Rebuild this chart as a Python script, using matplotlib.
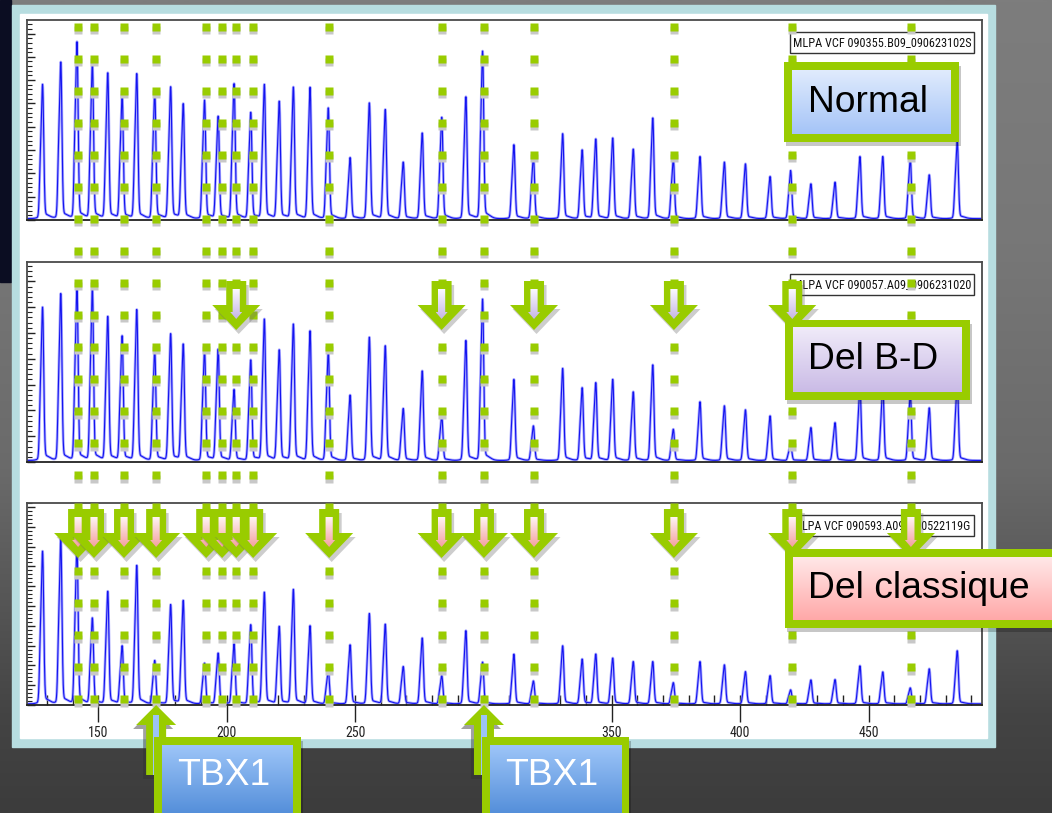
import numpy as np
import matplotlib
matplotlib.use("Agg")
import matplotlib.pyplot as plt
from matplotlib.colors import to_rgb
from matplotlib.font_manager import FontProperties, findfont
from matplotlib.patches import Rectangle, Polygon
from matplotlib.ticker import MultipleLocator, FixedLocator, NullLocator

# ---------------- MLPA fragment data ----------------
# fragment sizes (bp) of the probe peaks
probe_sizes = [128.3, 135.4, 141.7, 147.7, 153.7, 159.3, 165.0, 172.0, 178.2, 183.1,
               191.4, 196.7, 202.9, 209.4, 214.7, 220.5, 226.0, 232.5, 239.6, 248.1,
               255.6, 261.8, 268.8, 276.2, 283.8, 293.2, 299.7, 311.9, 319.5, 330.9,
               338.5, 343.8, 350.4, 358.4, 366.0, 374.0, 384.4, 393.9, 402.1, 411.7,
               419.7, 427.6, 437.0, 446.7, 455.6, 466.3, 473.7, 484.6]

# peak heights (RFU) for the three samples
rfu_normal = [5800, 6750, 7620, 6720, 6290, 5360, 6250, 5500, 5690, 4960,
              5120, 4430, 5830, 4600, 5790, 5075, 5675, 5675, 4790, 2670,
              5005, 4720, 2475, 3720, 4390, 5265, 7220, 3220, 2715, 3690,
              3000, 3460, 3505, 3030, 4360, 2600, 2715, 2475, 2400, 1860,
              2115, 1545, 1615, 2715, 2715, 2615, 1930, 3360]
rfu_del_bd = [5980, 6500, 6810, 6715, 5620, 4870, 5880, 4330, 4950, 4545,
              4330, 4350, 2800, 3940, 5515, 4330, 5320, 5065, 4290, 2585,
              4815, 4485, 2065, 3515, 1780, 4690, 6290, 3190, 1395, 3615,
              2870, 3060, 3190, 2710, 3750, 1265, 2325, 2170, 2015, 1780,
              670, 1330, 1520, 2900, 2900, 2635, 2090, 3100]
rfu_del_classique = [7740, 8330, 8080, 4380, 5720, 2980, 7020, 2240, 5050, 5250,
                     2105, 2610, 3080, 4040, 5670, 3955, 5810, 3990, 1730, 3030,
                     4600, 4065, 1935, 3370, 1480, 3740, 2155, 2560, 1210, 2980,
                     2310, 2560, 2360, 2185, 2185, 1125, 2185, 2020, 1680, 1480,
                     760, 1260, 1280, 1970, 1665, 860, 1820, 2730]
panel_rfu_max = [8580, 7750, 10200]

# 22q11 probes highlighted by the dotted guides (bp)
region_probes = [142.1, 148.3, 160.0, 172.5, 192.0, 198.2, 203.7, 210.3, 239.9,
                 283.7, 300.2, 319.7, 374.2, 420.3, 466.5]
del_bd_probes = [203.7, 283.7, 319.7, 374.2, 420.3]
del_classique_probes = region_probes
tbx1_probes = [172.5, 300.2]

sample_names = ["MLPA VCF 090355.B09_090623102S",
                "MLPA VCF 090057.A09_0906231020",
                "MLPA VCF 090593.A09_090522119G"]
profile_labels = ["Normal", "Del B-D", "Del classique"]
size_ticks = [150, 200, 250, 300, 350, 400, 450]

# ---------------- layout / style ----------------
FIG_W, FIG_H = 1052, 813
XLIM = (122.2, 494.2)
PANEL_LEFT, PANEL_W = 27, 955
PANEL_ROWS = [(20, 220), (262, 462), (503, 705)]
GREEN = "#99cc00"
UPP = (XLIM[1] - XLIM[0]) / PANEL_W      # bp per pixel


def font_available(name):
    try:
        findfont(FontProperties(family=name), fallback_to_default=False)
        return True
    except Exception:
        return False


NARROW = next((f for f in ["Liberation Sans Narrow", "Roboto Condensed",
                           "Open Sans Condensed"] if font_available(f)), "Liberation Sans")
SANS = "Liberation Sans" if font_available("Liberation Sans") else "DejaVu Sans"
plt.rcParams["font.family"] = [NARROW, "DejaVu Sans"]

fig = plt.figure(figsize=(FIG_W / 100, FIG_H / 100), dpi=100)


def px_axes(z, rect=(0, 0, 1, 1), xlim=(0, FIG_W)):
    a = fig.add_axes(rect, zorder=z)
    a.set_axis_off()
    a.set_xlim(*xlim)
    a.set_ylim(FIG_H, 0)
    a.set_autoscale_on(False)
    return a


def vgrad(ax, x0, y0, x1, y1, stops, z, clip=None):
    t = np.linspace(0, 1, 128)
    pos = [s[0] for s in stops]
    cols = np.array([to_rgb(s[1]) for s in stops])
    img = np.stack([np.interp(t, pos, cols[:, i]) for i in range(3)], axis=-1)[:, None, :]
    im = ax.imshow(img, extent=(x0, x1, y1, y0), aspect="auto",
                   interpolation="bilinear", zorder=z)
    if clip is not None:
        im.set_clip_path(clip)
    return im


# ---------------- slide background and frame ----------------
bg = px_axes(0)
vgrad(bg, 0, 0, FIG_W, FIG_H,
      [(0, "#7d7d7d"), (0.3, "#777777"), (0.58, "#6a6a6a"), (0.74, "#565656"),
       (0.88, "#444444"), (1, "#3c3c3c")], z=0)
bg.add_patch(Rectangle((0, 0), 11, 282, color="#0b0d22", zorder=1))
bg.add_patch(Rectangle((12, 5), 983, 742, color="#b7dde0", zorder=2))
bg.add_patch(Rectangle((20, 14), 967, 724, color="white", zorder=3))
bg.set_xlim(0, FIG_W)
bg.set_ylim(FIG_H, 0)

# ---------------- electropherograms ----------------
xs = np.arange(XLIM[0], XLIM[1], 0.04)


def trace(heights, base=60.0):
    y = np.full(xs.shape, base)
    for s, h in zip(probe_sizes, heights):
        a = (h - base) / 1.065
        y += a * np.exp(-0.5 * ((xs - s) / 0.42) ** 2)
        y += 0.42 * a * np.exp(-0.5 * ((xs - s + 0.85) / 0.38) ** 2)
        y += 0.035 * a * np.exp(-0.5 * ((xs - s - 0.9) / 1.8) ** 2)
    return y


renderer = fig.canvas.get_renderer()
panels = []
for i, heights in enumerate([rfu_normal, rfu_del_bd, rfu_del_classique]):
    top_px, bot_px = PANEL_ROWS[i]
    ax = fig.add_axes([PANEL_LEFT / FIG_W, 1 - bot_px / FIG_H,
                       PANEL_W / FIG_W, (bot_px - top_px) / FIG_H], zorder=1)
    ax.set_facecolor("white")
    y = trace(heights)
    ax.plot(xs, y, color="#9090ff", lw=2.0, alpha=0.75, solid_joinstyle="round")
    ax.plot(xs, y, color="#1414f0", lw=0.8)
    ax.set_xlim(*XLIM)
    ax.set_ylim(0, panel_rfu_max[i])
    for sp in ax.spines.values():
        sp.set_color("#4a4a4a")
        sp.set_linewidth(1.3)
    ax.spines["bottom"].set_color("#222222")
    ax.yaxis.set_major_locator(MultipleLocator(1000))
    ax.yaxis.set_minor_locator(MultipleLocator(200))
    ax.tick_params(axis="y", which="major", direction="in", length=6, width=1,
                   color="#222222", labelleft=False)
    ax.tick_params(axis="y", which="minor", direction="in", length=3.5, width=0.8,
                   color="#222222")
    if i < 2:
        ax.tick_params(axis="x", which="both", bottom=False, labelbottom=False)
    else:
        ax.xaxis.set_major_locator(FixedLocator(size_ticks))
        ax.xaxis.set_minor_locator(MultipleLocator(10))
        ax.tick_params(axis="x", which="major", direction="out", length=12, width=1,
                       color="#222222", labelsize=10, labelcolor="#222222", pad=3)
        ax.tick_params(axis="x", which="minor", direction="in", length=7, width=1,
                       color="#222222")
        sec = ax.secondary_xaxis("bottom")
        sec.xaxis.set_major_locator(FixedLocator(size_ticks))
        sec.xaxis.set_minor_locator(NullLocator())
        sec.tick_params(axis="x", direction="in", length=7, width=1,
                        color="#222222", labelbottom=False)
        sec.spines["bottom"].set_visible(False)

    # sample name box
    h_px = bot_px - top_px
    ax.add_patch(Rectangle(((790 - PANEL_LEFT) / PANEL_W, 1 - 33 / h_px),
                           184 / PANEL_W, 21 / h_px, transform=ax.transAxes,
                           facecolor="white", edgecolor="#333333", lw=1, zorder=5))
    txt = ax.text((793 - PANEL_LEFT) / PANEL_W, 1 - 22.5 / h_px, sample_names[i],
                  transform=ax.transAxes, ha="left", va="center", fontsize=10,
                  color="#111111", zorder=6)
    w = txt.get_window_extent(renderer=renderer).width
    txt.set_fontsize(10 * 177 / w)
    panels.append(ax)

# ---------------- dotted guides and arrows ----------------
ovl = px_axes(2, rect=(PANEL_LEFT / FIG_W, 0, PANEL_W / FIG_W, 1), xlim=XLIM)
rows = np.arange(27, 700, 32)
for c in region_probes:
    ovl.plot(np.full(rows.shape, c), rows + 3.5, "s", ms=5.8, color="#c8c8c8",
             mec="none", zorder=1, clip_on=False)
    ovl.plot(np.full(rows.shape, c), rows, "s", ms=5.8, color=GREEN,
             mec="none", zorder=2, clip_on=False)


def down_arrow(ax, c, t, stops, z):
    u = UPP
    outer = [(c - 10 * u, t), (c + 10 * u, t), (c + 10 * u, t + 24), (c + 24 * u, t + 24),
             (c, t + 49), (c - 24 * u, t + 24), (c - 10 * u, t + 24)]
    shadow = [(x + 2.5 * u, y + 4) for x, y in outer]
    ax.add_patch(Polygon(shadow, closed=True, color="#707070", alpha=0.35, lw=0,
                         zorder=z, clip_on=False))
    ax.add_patch(Polygon(outer, closed=True, color=GREEN, lw=0, zorder=z + 0.02,
                         clip_on=False))
    inner = [(c - 3.6 * u, t + 8), (c + 3.6 * u, t + 8), (c + 3.6 * u, t + 31),
             (c + 6 * u, t + 31), (c, t + 38), (c - 6 * u, t + 31), (c - 3.6 * u, t + 31)]
    poly = Polygon(inner, closed=True, facecolor="none", edgecolor="none",
                   zorder=z + 0.04, transform=ax.transData)
    ax.add_patch(poly)
    vgrad(ax, c - 6 * u, t + 8, c + 6 * u, t + 38, stops, z=z + 0.04, clip=poly)


lavender = [(0, "#fbfaff"), (1, "#c6b6e6")]
pink = [(0, "#fff4f4"), (1, "#f4a0a0")]
for k, c in enumerate(del_bd_probes):
    down_arrow(ovl, c, 281, lavender, 3 + 0.1 * k)
for k, c in enumerate(del_classique_probes):
    down_arrow(ovl, c, 509, pink, 4 + 0.1 * k)


def up_arrow(ax, c, tip, z):
    u = UPP
    outer = [(c, tip), (c + 20 * u, tip + 20), (c + 10 * u, tip + 20), (c + 10 * u, tip + 70),
             (c - 10 * u, tip + 70), (c - 10 * u, tip + 20), (c - 20 * u, tip + 20)]
    shadow = [(x - 3 * u, y + 4) for x, y in outer]
    ax.add_patch(Polygon(shadow, closed=True, color="#303030", alpha=0.45, lw=0,
                         zorder=z, clip_on=False))
    ax.add_patch(Polygon(outer, closed=True, color=GREEN, lw=0, zorder=z + 0.02,
                         clip_on=False))
    ax.add_patch(Rectangle((c - 3 * u, tip + 10), 6 * u, 60, color="#9cc3f6", lw=0,
                           zorder=z + 0.04, clip_on=False))


for c in tbx1_probes:
    up_arrow(ovl, c, PANEL_ROWS[2][1], 8)

ovl.set_xlim(*XLIM)
ovl.set_ylim(FIG_H, 0)

# ---------------- profile labels ----------------
top = px_axes(3)


def label_box(x0, y0, x1, y1, stops, text, tx, ty, tcolor):
    top.add_patch(Rectangle((x0 + 2, y0 + 4), x1 - x0, y1 - y0, color="black",
                            alpha=0.22, lw=0, zorder=1))
    top.add_patch(Rectangle((x0, y0), x1 - x0, y1 - y0, color=GREEN, lw=0, zorder=2))
    vgrad(top, x0 + 8, y0 + 8, x1 - 8, y1 - 8, stops, z=3)
    top.text(tx, ty, text, fontsize=26.8, family=SANS, color=tcolor,
             ha="left", va="baseline", zorder=4)


label_box(784, 62, 959, 142, [(0, "#e0ebfd"), (1, "#a5c4f7")], profile_labels[0], 808, 111.5, "black")
label_box(785, 320, 970, 400, [(0, "#f0ebf9"), (1, "#cabbe6")], profile_labels[1], 808, 369, "black")
label_box(785, 549, 1075, 628, [(0, "#ffe8e8"), (1, "#ffa8a8")], profile_labels[2], 808, 598, "black")

for c in tbx1_probes:
    cx = PANEL_LEFT + (c - XLIM[0]) / UPP
    label_box(cx - 2, 737, cx + 145, 835, [(0, "#9dc5f8"), (1, "#4684d4")],
              "TBX1", cx + 21, 785, "white")

top.set_xlim(0, FIG_W)
top.set_ylim(FIG_H, 0)

fig.savefig("out.png", dpi=100)
